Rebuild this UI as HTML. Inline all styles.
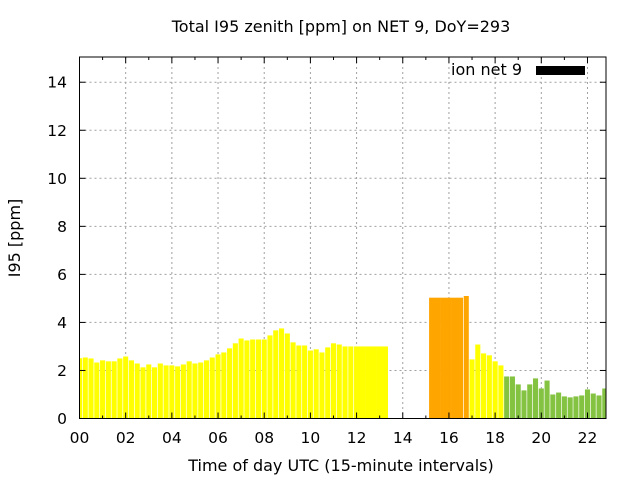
<!DOCTYPE html>
<html><head><meta charset="utf-8"><style>
html,body{margin:0;padding:0;background:#fff;}
svg{display:block;font-family:"DejaVu Sans","Liberation Sans",sans-serif;}
</style></head><body>
<svg id="chart" width="640" height="480" viewBox="0 0 640 480">
<text x="341" y="32" text-anchor="middle" font-size="16">Total I95 zenith [ppm] on NET 9, DoY=293</text>
<g id="grid"></g>
<g id="bars"></g>
<g id="axes"></g>
<text transform="translate(20,238) rotate(-90)" text-anchor="middle" font-size="16">I95 [ppm]</text>
<text x="341" y="471" text-anchor="middle" font-size="16">Time of day UTC (15-minute intervals)</text>
<g>
<text x="522" y="75" text-anchor="end" font-size="16">ion net 9</text>
<rect x="536" y="66" width="49" height="9" fill="#000"></rect>
</g>
</svg>
<script>
const values = [2.51,2.54,2.5,2.33,2.42,2.38,2.38,2.5,2.58,2.42,2.29,2.13,2.25,2.13,2.29,2.21,2.21,2.17,2.25,2.38,2.29,2.33,2.42,2.54,2.67,2.75,2.92,3.13,3.33,3.25,3.29,3.29,3.29,3.46,3.67,3.75,3.54,3.17,3.04,3.04,2.83,2.88,2.75,2.96,3.13,3.08,3.0,3.0,3.0,3.0,3.0,3.0,3.0,3.0,null,null,null,null,null,null,null,5.03,5.03,5.03,5.03,5.03,5.03,5.1,2.46,3.08,2.71,2.63,2.38,2.21,1.75,1.75,1.42,1.17,1.42,1.67,1.25,1.58,1.0,1.08,0.92,0.88,0.92,0.96,1.21,1.04,0.96,1.25];
const levels = "YYYYYYYYYYYYYYYYYYYYYYYYYYYYYYYYYYYYYYYYYYYYYYYYYYYYYY-------OOOOOOOYYYYYYGGGGGGGGGGGGGGGGGG";
const mergedStarts = [48, 61];
const mergedEnds = [53, 66];
const xTicks = ["00","02","04","06","08","10","12","14","16","18","20","22"];
const yTicks = [0,2,4,6,8,10,12,14];
const L=79.5,R=606,T=57,B=418.5,xmax=(R-L)/23.09,ymax=(B-T)/24.02;
const xs=t=>L+(t/xmax)*(R-L), ys=v=>B-(v/ymax)*(B-T);
const NS="http://www.w3.org/2000/svg";
function mk(tag,parent,attrs){const e=document.createElementNS(NS,tag);for(const k in attrs)e.setAttribute(k,attrs[k]);document.getElementById(parent).appendChild(e);return e;}
const colors={Y:"#ffff00",O:"#ffa500",G:"#84c341"};
xTicks.forEach((lab,i)=>{const x=xs(i*2);
 if(i>0){const g=mk("line","grid",{x1:x,x2:x,y1:T,y2:B,stroke:"#a0a0a0","stroke-dasharray":"2,3"});
 
 }
 const t=mk("text","axes",{x:x,y:443,"text-anchor":"middle","font-size":"15.5"});t.textContent=lab;
 
 
});
for(let h=0;h<=22;h++){const x=xs(h),len=(h%2==0)?6:3;
 mk("line","axes",{x1:x,x2:x,y1:B,y2:B-len,stroke:"#000"});mk("line","axes",{x1:x,x2:x,y1:T,y2:T+len,stroke:"#000"});}
yTicks.forEach(v=>{const y=ys(v);
 if(v>0){const g=mk("line","grid",{x1:L,x2:R,y1:y,y2:y,stroke:"#a0a0a0","stroke-dasharray":"2,3"});
 
 }
 mk("line","axes",{x1:L,x2:L+6,y1:y,y2:y,stroke:"#000"});mk("line","axes",{x1:R,x2:R-6,y1:y,y2:y,stroke:"#000"});
 const t=mk("text","axes",{x:67,y:y+5.5,"text-anchor":"end","font-size":"15.5"});t.textContent=v;
 
 
});
const bw=0.22;
function inMerge(i){for(let k=0;k<mergedStarts.length;k++){if(i>=mergedStarts[k]&&i<=mergedEnds[k])return k;}return -1;}
values.forEach((v,i)=>{if(v==null)return;const c=colors[levels[i]]||"#ffff00";
 let t0=i*0.25-bw/2,t1=i*0.25+bw/2;
 const k=inMerge(i);
 if(k>=0){ if(i>mergedStarts[k])t0=i*0.25-0.13; if(i<mergedEnds[k])t1=i*0.25+0.13; }
 const x0=Math.max(L,xs(t0)),x1=Math.min(R,xs(t1));
 const r=mk("rect","bars",{x:x0,y:ys(v),width:Math.max(0,x1-x0),height:B-ys(v),fill:c});
 
 
});
const border=mk("rect","axes",{x:L,y:T,width:R-L,height:B-T,fill:"none",stroke:"#000","stroke-width":"1"});


</script>
</body></html>
